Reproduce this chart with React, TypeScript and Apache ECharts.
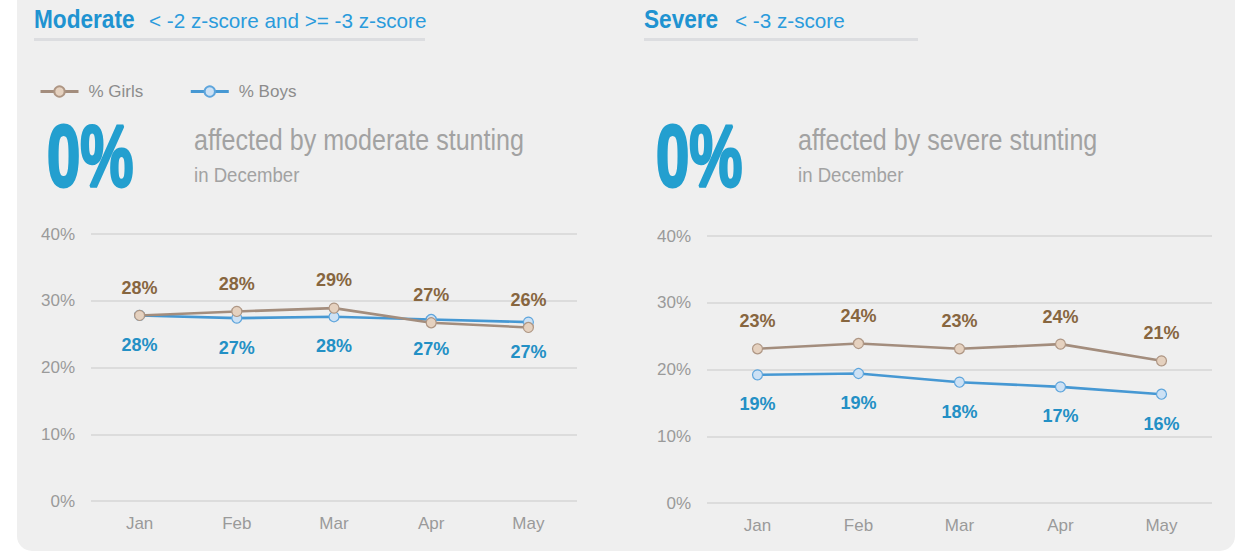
import React, { useEffect, useRef } from "react";
import * as echarts from "echarts";

const months = ["Jan", "Feb", "Mar", "Apr", "May"];
const modGirls = [27.8, 28.4, 28.9, 26.7, 26.0];
const modBoys = [27.8, 27.4, 27.6, 27.2, 26.8];
const sevGirls = [23.1, 23.9, 23.1, 23.8, 21.3];
const sevBoys = [19.2, 19.4, 18.1, 17.4, 16.3];
const yMin = 0;
const yMax = 40;
const yStep = 10;
const legendNames = ["% Girls", "% Boys"];
const panelTitles = ["Moderate", "Severe"];
const panelSubtitles = ["< -2 z-score and >= -3 z-score", "< -3 z-score"];
const headlineValues = ["0%", "0%"];
const headlineTexts = ["affected by moderate stunting", "affected by severe stunting"];
const headlineSub = "in December";

const FONT = "'Liberation Sans', Arial, sans-serif";
const BLUE = "#2093d1";
const GIRL_LINE = "#a38d7d";
const GIRL_FILL = "#e5d1bf";
const GIRL_BORDER = "#ae9684";
const GIRL_LABEL = "#87663f";
const BOY_LINE = "#4698d3";
const BOY_FILL = "#cde1f4";
const BOY_BORDER = "#5ea5dc";
const BOY_LABEL = "#2390c5";

function txt(x: number, y: number, text: string, size: number, color: string, weight: string, scaleX = 1, stroke = 0) {
  return {
    type: "text",
    x,
    y,
    scaleX,
    silent: true,
    style: {
      x: 0,
      y: 0,
      text,
      fill: color,
      stroke: stroke ? color : undefined,
      lineWidth: stroke,
      font: `${weight} ${size}px ${FONT}`,
      align: "left",
      verticalAlign: "middle",
    },
  };
}

export default function App() {
  const ref = useRef<HTMLDivElement>(null);
  useEffect(() => {
    document.body.style.margin = "0";
    const chart = echarts.init(ref.current!, null, { renderer: "svg" });

    const makeSeries = (name: string, data: number[], idx: number, girl: boolean) => ({
      name,
      type: "line",
      xAxisIndex: idx,
      yAxisIndex: idx,
      data,
      z: girl ? 4 : 3,
      symbol: "circle",
      symbolSize: 10,
      lineStyle: { width: 2.6, color: girl ? GIRL_LINE : BOY_LINE },
      itemStyle: {
        color: girl ? GIRL_FILL : BOY_FILL,
        borderColor: girl ? GIRL_BORDER : BOY_BORDER,
        borderWidth: 1.2,
      },
      label: {
        show: true,
        position: girl ? "top" : "bottom",
        distance: girl ? 13 : 15,
        fontFamily: FONT,
        fontWeight: "bold",
        fontSize: 18,
        color: girl ? GIRL_LABEL : BOY_LABEL,
        formatter: (p: any) => Math.round(p.value) + "%",
      },
    });

    const xAxis = (idx: number) => ({
      type: "category",
      gridIndex: idx,
      data: months,
      boundaryGap: true,
      axisLine: { show: false },
      axisTick: { show: false },
      axisLabel: { color: "#9a9a9a", fontSize: 17, fontFamily: FONT, margin: 14 },
    });
    const yAxis = (idx: number) => ({
      type: "value",
      gridIndex: idx,
      min: yMin,
      max: yMax,
      interval: yStep,
      axisLine: { show: false },
      axisTick: { show: false },
      axisLabel: { color: "#9a9a9a", fontSize: 17, fontFamily: FONT, margin: 16, formatter: "{value}%" },
      splitLine: { lineStyle: { color: "#dcdcdc", width: 2 } },
    });

    const panelX = [34, 644];
    const subX = [149, 735];
    const ulEnd = [425, 918];
    const bigX = [47, 656];
    const affX = [194, 798];

    const graphics: any[] = [
      {
        type: "rect",
        silent: true,
        z: -10,
        shape: { x: 17, y: -30, width: 1218, height: 581, r: 15 },
        style: { fill: "#efefef" },
      },
    ];
    for (let i = 0; i < 2; i++) {
      graphics.push(txt(panelX[i], 19, panelTitles[i], 26, BLUE, "bold", 0.87));
      graphics.push(txt(subX[i], 20.5, panelSubtitles[i], 21, "#2a9bdc", "normal", 0.985));
      graphics.push({
        type: "rect",
        silent: true,
        shape: { x: panelX[i], y: 38, width: ulEnd[i] - panelX[i], height: 3 },
        style: { fill: "#dcdde0" },
      });
      graphics.push(txt(bigX[i], 156, headlineValues[i], 88, "#239fcf", "bold", 0.68, 3));
      graphics.push(txt(affX[i], 140, headlineTexts[i], 29, "#a2a2a2", "normal", 0.865));
      graphics.push(txt(affX[i], 175.5, headlineSub, 20, "#a2a2a2", "normal", 0.93));
    }

    chart.setOption({
      animation: false,
      backgroundColor: "#ffffff",
      textStyle: { fontFamily: FONT },
      graphic: graphics,
      legend: {
        data: legendNames,
        left: 34,
        top: 78,
        itemWidth: 38,
        itemHeight: 13,
        itemGap: 46,
        lineStyle: { width: 3 },
        textStyle: { color: "#8c8c8c", fontSize: 17, fontFamily: FONT, padding: [0, 0, 0, 5] },
      },
      grid: [
        { left: 91, width: 486, top: 234, height: 267 },
        { left: 707, width: 505, top: 236, height: 267 },
      ],
      xAxis: [xAxis(0), xAxis(1)],
      yAxis: [yAxis(0), yAxis(1)],
      series: [
        makeSeries(legendNames[1], modBoys, 0, false),
        makeSeries(legendNames[0], modGirls, 0, true),
        makeSeries(legendNames[1], sevBoys, 1, false),
        makeSeries(legendNames[0], sevGirls, 1, true),
      ],
    });
    return () => chart.dispose();
  }, []);
  return <div ref={ref} style={{ width: 1239, height: 552 }} />;
}
